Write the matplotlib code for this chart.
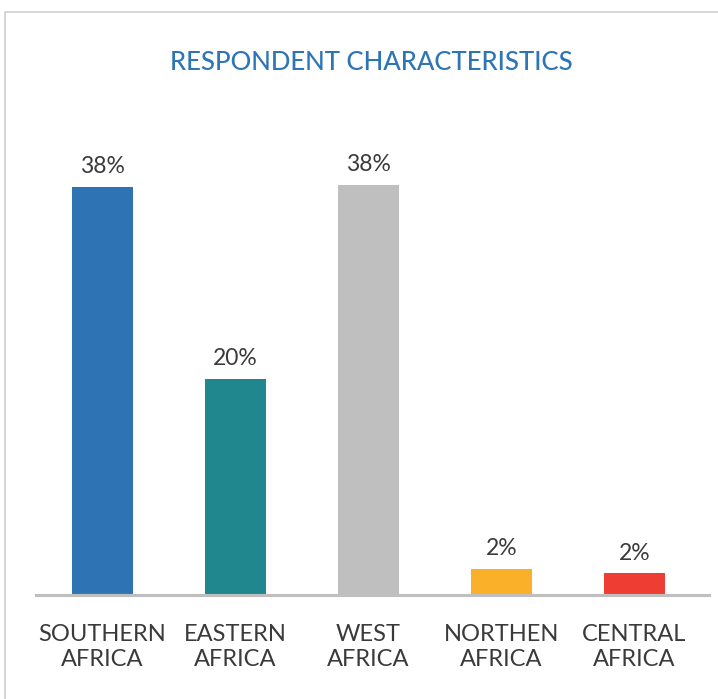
import matplotlib.pyplot as plt
from matplotlib.patches import Rectangle

# Data
regions = ["SOUTHERN\nAFRICA", "EASTERN\nAFRICA", "WEST\nAFRICA", "NORTHEN\nAFRICA", "CENTRAL\nAFRICA"]
shares = [37.8, 20.0, 38.0, 2.4, 2.0]
labels = ["38%", "20%", "38%", "2%", "2%"]
colors = ["#2E74B5", "#21878F", "#BFBFBF", "#FBB02A", "#EE3E33"]

W, H = 718, 699
fig = plt.figure(figsize=(W / 100, H / 100), dpi=100)
fig.patch.set_facecolor("white")

# light frame around the card (runs off the right/bottom edge)
fig.patches.append(Rectangle((5 / W, -0.05), 1.2, 1 - 12 / H + 0.05,
                             transform=fig.transFigure, fill=False,
                             edgecolor="#D0D0D0", linewidth=1.2))

fig.text(371 / W, 1 - 63 / H, "RESPONDENT CHARACTERISTICS", ha="center", va="center",
         color="#2E75B6", fontsize=18.5, family="Lato", fontweight="medium")

# axes: baseline at y=595px, 10.8 px per percentage point
ax_left, ax_right = 36 / W, 701 / W
ax_bottom = 1 - 595 / H
ax_top = 1 - (595 - 10.8 * 44) / H
ax = fig.add_axes([ax_left, ax_bottom, ax_right - ax_left, ax_top - ax_bottom])
ax.set_xlim(-0.5, 4.5)
ax.set_ylim(0, 44)

x = range(len(regions))
bars = ax.bar(x, shares, width=0.46, color=colors, zorder=2)
for b, lab in zip(bars, labels):
    ax.annotate(lab, (b.get_x() + b.get_width() / 2, b.get_height()),
                xytext=(0, 7), textcoords="offset points", ha="center", va="bottom",
                fontsize=16.5, color="#3A3A3A", family="Lato")

for s in ["top", "right", "left"]:
    ax.spines[s].set_visible(False)
ax.spines["bottom"].set_color("#BFBFBF")
ax.spines["bottom"].set_linewidth(2.2)
ax.plot([-0.5, 4.56], [0, 0], color="#BFBFBF", lw=2.2, clip_on=False, zorder=3)
ax.set_yticks([])
ax.set_xticks(list(x))
ax.set_xticklabels(regions, fontsize=17, color="#3A3A3A", family="Lato", linespacing=1.2)
ax.tick_params(axis="x", length=0, pad=21)

fig.savefig("out.png", dpi=100)
